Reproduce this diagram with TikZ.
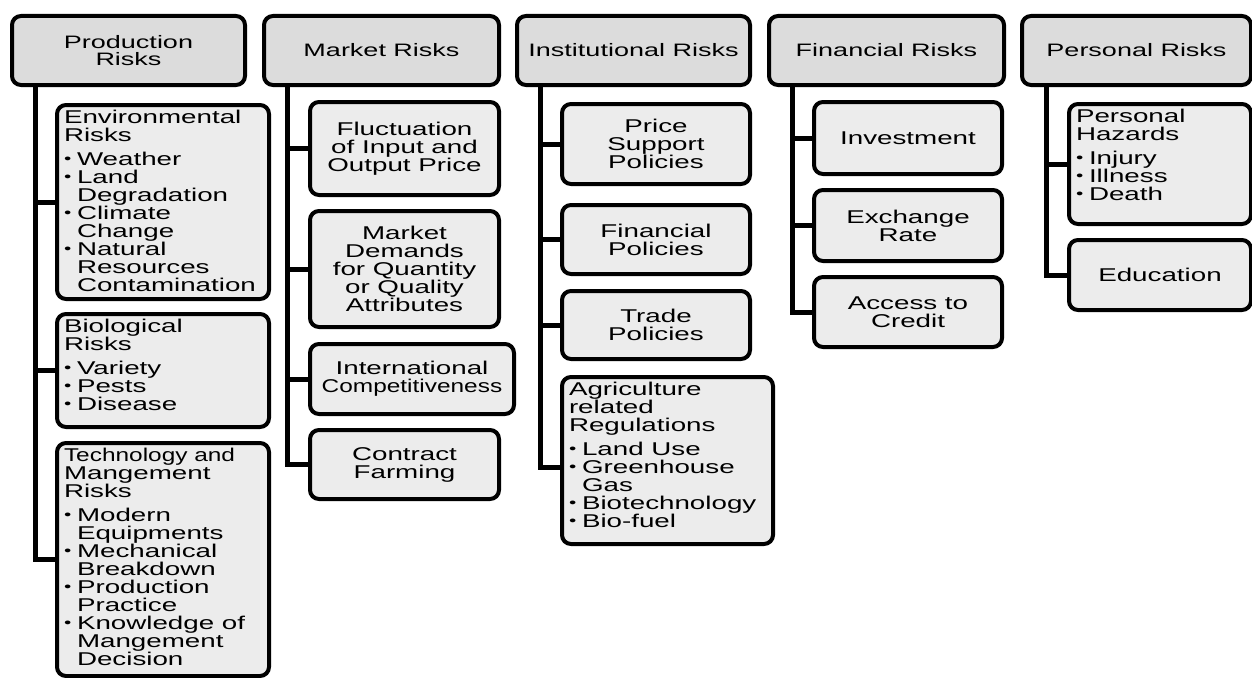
\documentclass[tikz,border=0pt]{standalone}
\usepackage{fontspec}
\setmainfont{Liberation Sans}[FakeStretch=1.5]
\newfontfamily\tightfont{Liberation Sans}[FakeStretch=1.32]
\usepackage{graphicx}

\definecolor{headgray}{HTML}{DCDCDC}
\definecolor{subgray}{HTML}{ECECEC}

% bulleted entry with hanging indent; \newline keeps the paragraph open
\newcommand{\bul}[1]{\par\hangindent=13pt\hangafter=1\noindent
  \makebox[13pt][l]{\raisebox{1.5pt}{\scalebox{0.75}{•}}}#1}
% top-aligned, left-aligned box content
\newcommand{\ltext}[3]{\begin{minipage}[c][#2][t]{#1}\raggedright
  \vspace*{5pt}#3\end{minipage}}

\tikzset{
  headbox/.style={draw, line width=4pt, rounded corners=9pt, fill=headgray,
    inner sep=0pt, anchor=north west, align=center,
    font=\fontsize{18}{17.5}\selectfont},
  subbox/.style={draw, line width=4pt, rounded corners=9pt, fill=subgray,
    inner sep=0pt, anchor=north west, align=center,
    font=\fontsize{18.5}{18}\selectfont},
  conn/.style={line width=5pt, line join=miter},
}

\begin{document}
\begin{tikzpicture}[x=1pt, y=-1pt]
\useasboundingbox (0,0) rectangle (1252,677);

% ---------- category headers ----------
\node[headbox, minimum width=233pt, minimum height=69pt] (prod) at (10,14) {Production\\Risks};
\node[headbox, minimum width=235pt, minimum height=69pt] (mark) at (262,14) {Market Risks};
\node[headbox, minimum width=233pt, minimum height=69pt] (inst) at (515,14) {Institutional Risks};
\node[headbox, minimum width=235pt, minimum height=69pt] (fina) at (767,14) {Financial Risks};
\node[headbox, minimum width=229pt, minimum height=69pt] (pers) at (1020,14) {Personal Risks};

% ---------- production risks ----------
\node[subbox, minimum width=212pt] (env) at (55,103) {\ltext{198pt}{194pt}{%
  Environmental\\Risks\par\vspace{6pt}
  \bul{Weather}
  \bul{Land\newline Degradation}
  \bul{Climate\newline Change}
  \bul{Natural\newline Resources\newline Contamination}}};
\node[subbox, minimum width=212pt] (bio) at (55,312) {\ltext{198pt}{113pt}{%
  Biological\\Risks\par\vspace{6pt}
  \bul{Variety}
  \bul{Pests}
  \bul{Disease}}};
\node[subbox, minimum width=212pt] (tech) at (55,441) {\ltext{198pt}{233pt}{%
  {\tightfont Technology and}\\Mangement\\Risks\par\vspace{6pt}
  \bul{Modern\newline Equipments}
  \bul{Mechanical\newline Breakdown}
  \bul{Production\newline Practice}
  \bul{Knowledge of\newline Mangement\newline Decision}}};

% ---------- market risks ----------
\node[subbox, minimum width=189pt, minimum height=93pt] (fluc) at (308,100) {Fluctuation\\of Input and\\Output Price};
\node[subbox, minimum width=189pt, minimum height=116pt] (dema) at (308,209) {Market\\Demands\\for Quantity\\or Quality\\Attributes};
\node[subbox, minimum width=204pt, minimum height=70pt] (intl) at (308,342) {International\\{\tightfont Competitiveness}};
\node[subbox, minimum width=189pt, minimum height=69pt] (cont) at (308,428) {Contract\\Farming};

% ---------- institutional risks ----------
\node[subbox, minimum width=188pt, minimum height=80pt] (pric) at (560,102) {Price\\Support\\Policies};
\node[subbox, minimum width=188pt, minimum height=69pt] (fpol) at (560,203) {Financial\\Policies};
\node[subbox, minimum width=188pt, minimum height=68pt] (trad) at (560,289) {Trade\\Policies};
\node[subbox, minimum width=211pt] (agri) at (560,375) {\ltext{197pt}{167pt}{%
  Agriculture\\related\\Regulations\par\vspace{6pt}
  \bul{Land Use}
  \bul{Greenhouse\newline Gas}
  \bul{Biotechnology}
  \bul{Bio-fuel}}};

% ---------- financial risks ----------
\node[subbox, minimum width=188pt, minimum height=72pt] (inve) at (812,100) {Investment};
\node[subbox, minimum width=188pt, minimum height=71pt] (exch) at (812,188) {Exchange\\Rate};
\node[subbox, minimum width=188pt, minimum height=70pt] (acce) at (812,275) {Access to\\Credit};

% ---------- personal risks ----------
\node[subbox, minimum width=182pt] (haza) at (1067,102) {\ltext{168pt}{120pt}{%
  Personal\\Hazards\par\vspace{6pt}
  \bul{Injury}
  \bul{Illness}
  \bul{Death}}};
\node[subbox, minimum width=182pt, minimum height=70pt] (educ) at (1067,238) {Education};

% ---------- tree connectors ----------
\coordinate (sp1) at (35,83);
\coordinate (sp2) at (287,83);
\coordinate (sp3) at (540,83);
\coordinate (sp4) at (792,83);
\coordinate (sp5) at (1046,83);

\foreach \c in {env,bio,tech} \draw[conn] (sp1) |- (\c.west);
\foreach \c in {fluc,dema,intl,cont} \draw[conn] (sp2) |- (\c.west);
\foreach \c in {pric,fpol,trad} \draw[conn] (sp3) |- (\c.west);
\draw[conn] (sp3) |- ([yshift=-7pt]agri.west);
\foreach \c in {inve,exch,acce} \draw[conn] (sp4) |- (\c.west);
\foreach \c in {haza,educ} \draw[conn] (sp5) |- (\c.west);
\end{tikzpicture}
\end{document}
